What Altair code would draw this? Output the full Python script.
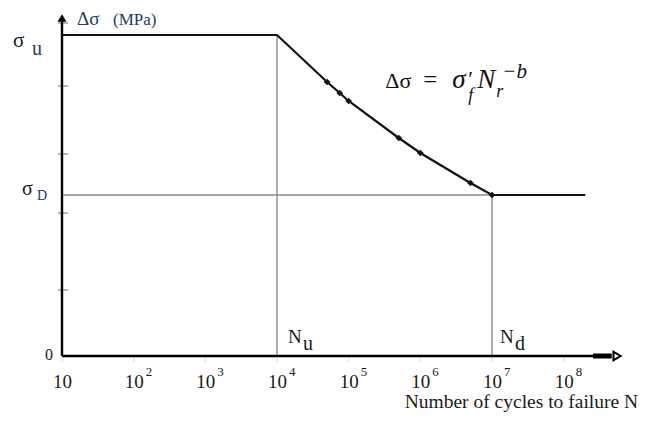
import altair as alt
import pandas as pd

# ---------------- data ----------------
curve_cycles = [10, 1e4, 5e4, 7.5e4, 1e5, 5e5, 1e6, 5e6, 1e7, 2e8]
curve_stress = [321, 321, 274, 263, 255, 218, 203, 173, 161, 161]
marker_cycles = [5e4, 7.5e4, 1e5, 5e5, 1e6, 5e6, 1e7]
marker_stress = [274, 263, 255, 218, 203, 173, 161]
sigma_u = 321
sigma_d = 161
N_u = 1e4
N_d = 1e7
ytick_values = [333, 270, 202, 143, 66]
xtick_values = [1e1, 1e2, 1e3, 1e4, 1e5, 1e6, 1e7, 1e8]
xtick_exponents = ["", "2", "3", "4", "5", "6", "7", "8"]

# axis extents (decorations)
X_MIN = 10
X_MAX = 10 ** 8.981
Y_MAX = 348
X_AXIS_END = 10 ** 8.52
X_ARROW_SHAFT = [10 ** 8.41, 10 ** 8.67]
X_ARROW_HEAD = 10 ** 8.745
Y_ARROW_HEAD = 338

SERIF = "Liberation Serif"
DARK = "#151a24"
NAVY = "#223a66"

xs = alt.Scale(type="log", domain=[X_MIN, X_MAX], nice=False)
ys = alt.Scale(type="linear", domain=[0, Y_MAX], nice=False, zero=False)


def X(f="x"):
    return alt.X(f"{f}:Q", scale=xs, axis=None)


def Y(f="y"):
    return alt.Y(f"{f}:Q", scale=ys, axis=None)


layers = []

# guide lines (thin gray)
guides = pd.DataFrame({
    "x": [N_u, N_d, X_MIN],
    "x2": [N_u, N_d, N_d],
    "y": [0, 0, sigma_d],
    "y2": [sigma_u, sigma_d, sigma_d],
})
layers.append(
    alt.Chart(guides).mark_rule(color="#8a8a8a", strokeWidth=1.4).encode(
        x=X(), x2="x2:Q", y=Y(), y2="y2:Q")
)

# y-axis small ticks
ytk = pd.DataFrame({"x": [X_MIN] * len(ytick_values), "y": ytick_values})
layers.append(
    alt.Chart(ytk).mark_tick(orient="horizontal", size=10, thickness=1.2,
                             color="#555555", xOffset=1).encode(x=X(), y=Y())
)
# x-axis faint ticks
xtk = pd.DataFrame({"x": xtick_values, "y": [0] * len(xtick_values)})
layers.append(
    alt.Chart(xtk).mark_tick(orient="vertical", size=6, thickness=1,
                             color="#cccccc", yOffset=3).encode(x=X(), y=Y())
)

# axes lines
yaxis = pd.DataFrame({"x": [X_MIN], "y": [0], "y2": [Y_ARROW_HEAD]})
layers.append(
    alt.Chart(yaxis).mark_rule(color="#000000", strokeWidth=2.4).encode(
        x=X(), y=Y(), y2="y2:Q")
)
xaxis = pd.DataFrame({"x": [X_MIN], "x2": [X_AXIS_END], "y": [0]})
layers.append(
    alt.Chart(xaxis).mark_rule(color="#000000", strokeWidth=2.6).encode(
        x=X(), x2="x2:Q", y=Y())
)
xshaft = pd.DataFrame({"x": [X_ARROW_SHAFT[0]], "x2": [X_ARROW_SHAFT[1]], "y": [0]})
layers.append(
    alt.Chart(xshaft).mark_rule(color="#000000", strokeWidth=5).encode(
        x=X(), x2="x2:Q", y=Y())
)
xhead = pd.DataFrame({"x": [X_ARROW_HEAD], "y": [0]})
layers.append(
    alt.Chart(xhead).mark_point(shape="triangle-right", size=70, filled=True,
                                fill="#ffffff", stroke="#000000",
                                strokeWidth=2, opacity=1).encode(x=X(), y=Y())
)
yhead = pd.DataFrame({"x": [X_MIN], "y": [Y_ARROW_HEAD]})
layers.append(
    alt.Chart(yhead).mark_point(shape="triangle-up", size=80, filled=True,
                                color="#000000", opacity=1).encode(x=X(), y=Y())
)

# curve
curve = pd.DataFrame({"x": curve_cycles, "y": curve_stress})
layers.append(
    alt.Chart(curve).mark_line(color="#111111", strokeWidth=2.2).encode(
        x=X(), y=Y())
)
marks = pd.DataFrame({"x": marker_cycles, "y": marker_stress})
layers.append(
    alt.Chart(marks).mark_point(shape="diamond", filled=True, size=45,
                                color="#0d1420", opacity=1).encode(x=X(), y=Y())
)


def label(text, x, y, dx, dy, size, color=DARK, style="normal", font=SERIF,
          align="left"):
    df = pd.DataFrame({"x": [x], "y": [y], "t": [text]})
    return alt.Chart(df).mark_text(
        dx=dx, dy=dy, fontSize=size, color=color, fontStyle=style, font=font,
        align=align, baseline="alphabetic").encode(x=X(), y=Y(), text="t:N")


# tick labels
for v, e in zip(xtick_values, xtick_exponents):
    layers.append(label("10", v, 0, -9, 32, 19, color="#1a1a1a"))
    if e:
        layers.append(label(e, v, 0, 12, 20, 13, color="#1a1a1a"))

layers.append(label("0", X_MIN, 0, -17, 4, 16, color="#1a1a1a"))

# axis labels / symbols
layers.append(label("σ", X_MIN, sigma_u, -49, 12, 21))
layers.append(label("u", X_MIN, sigma_u, -30, 20, 20, color=NAVY))
layers.append(label("σ", X_MIN, sigma_d, -40, 0, 20))
layers.append(label("D", X_MIN, sigma_d, -25, 5, 14, color=NAVY))
layers.append(label("Δσ", X_MIN, sigma_u, 15, -10, 19, color=NAVY))
layers.append(label("(MPa)", X_MIN, sigma_u, 51, -10, 17, color=NAVY))
layers.append(label("N", N_u, 0, 11, -13, 19))
layers.append(label("u", N_u, 0, 26, -6, 20))
layers.append(label("N", N_d, 0, 8, -13, 19))
layers.append(label("d", N_d, 0, 23, -6, 20))
layers.append(label("Number of cycles to failure   N", X_ARROW_HEAD, 0, 21, 52,
                    19.5, color="#1a1a1a", align="right"))

# formula
fx, fy = 1e6, 203
layers.append(label("Δσ", fx, fy, -35, -65, 22, color="#111111"))
layers.append(label("=", fx, fy, 3, -65, 25, color="#111111"))
layers.append(label("σ", fx, fy, 32, -65, 27, color="#111111", style="italic"))
layers.append(label("′", fx, fy, 48, -67, 22, color="#111111"))
layers.append(label("f", fx, fy, 48, -52, 18, color="#111111", style="italic"))
layers.append(label("N", fx, fy, 57, -65, 27, color="#111111", style="italic"))
layers.append(label("r", fx, fy, 76, -56, 18, color="#111111", style="italic"))
layers.append(label("−b", fx, fy, 82, -75, 21, color="#111111", style="italic"))

chart = alt.layer(*layers).properties(
    width=572,
    height=Y_MAX,
    autosize=alt.AutoSizeParams(type="none"),
    padding={"left": 54, "top": 0, "right": 5, "bottom": 64},
).configure_view(strokeWidth=0)

chart.save("out.html", embed_options={"renderer": "svg", "actions": False})
